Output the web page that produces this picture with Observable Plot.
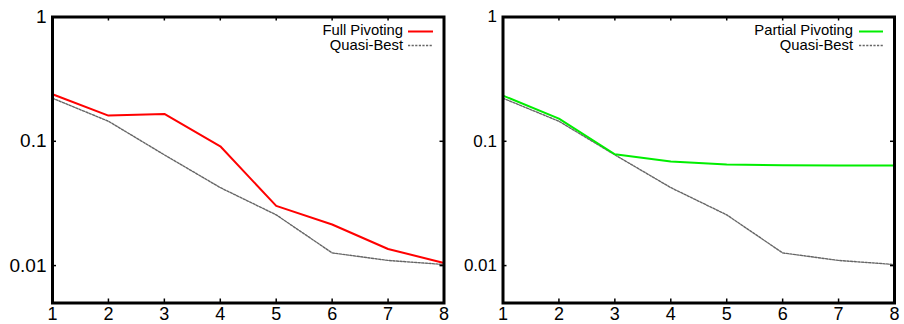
<!DOCTYPE html>
<html>
<head>
<meta charset="utf-8">
<script src="https://cdn.jsdelivr.net/npm/d3@7"></script>
<script src="https://cdn.jsdelivr.net/npm/@observablehq/plot@0.6"></script>
<style>
  html, body { margin: 0; padding: 0; background: #fff; }
  #wrap { display: flex; width: 904px; height: 324px; overflow: hidden; }
  #wrap svg { display: block; }
</style>
</head>
<body>
<div id="wrap"></div>
<script>
// ---- data ----
const steps = [1, 2, 3, 4, 5, 6, 7, 8];
const fullPivoting    = [0.239, 0.161, 0.166, 0.0912, 0.0302, 0.0214, 0.0136, 0.0105];
const partialPivoting = [0.233, 0.152, 0.0787, 0.0687, 0.065, 0.0642, 0.0638, 0.0638];
const quasiBest       = [0.222, 0.145, 0.0778, 0.0424, 0.0256, 0.01265, 0.011, 0.0102];
const yTicks = [1, 0.1, 0.01];
const yTickLabels = ["1", "0.1", "0.01"];
const xTicks = steps;
const panels = [
  { name: "Full Pivoting", values: fullPivoting, color: "#ff0000" },
  { name: "Partial Pivoting", values: partialPivoting, color: "#00ee00" }
];
const refName = "Quasi-Best";

const FONT = "'Liberation Sans', Arial, Helvetica, sans-serif";
const H = 324, MT = 16.5, MB = 21.5;
const GREY = "#666";

function panel(p, i) {
  const W = 452;
  const ML = i === 0 ? 52 : 50.5;
  const MR = i === 0 ? 8.5 : 10;
  const innerW = W - ML - MR, innerH = H - MT - MB;
  const main = steps.map((s, k) => ({ x: s, y: p.values[k] }));
  const ref = steps.map((s, k) => ({ x: s, y: quasiBest[k] }));
  const yFont = i === 0 ? 19 : 17;
  const chart = Plot.plot({
    width: W, height: H,
    marginLeft: ML, marginRight: MR, marginTop: MT, marginBottom: MB,
    style: { fontFamily: FONT, background: "#fff", color: "#000", overflow: "visible" },
    x: { domain: [1, 8] },
    y: { type: "log", domain: [0.005, 1] },
    marks: [
      Plot.line(ref, { x: "x", y: "y", stroke: GREY, strokeWidth: 1.4, strokeDasharray: "2.2,1.4" }),
      Plot.line(main, { x: "x", y: "y", stroke: p.color, strokeWidth: 2 }),
      Plot.tickX(xTicks, { x: d => d, insetTop: innerH - 4, stroke: "#000", strokeWidth: 1.5 }),
      Plot.tickX(xTicks, { x: d => d, insetBottom: innerH - 4, stroke: "#000", strokeWidth: 1.5 }),
      Plot.tickY(yTicks, { y: d => d, insetRight: innerW - 4, stroke: "#000", strokeWidth: 1.5 }),
      Plot.tickY(yTicks, { y: d => d, insetLeft: innerW - 4, stroke: "#000", strokeWidth: 1.5 }),
      Plot.axisX({ ticks: xTicks, tickSize: 0, tickPadding: 4, tickFormat: d => String(d), label: null, fontSize: 18 }),
      Plot.axisY({ ticks: yTicks, tickSize: 0, tickPadding: 6, tickFormat: d => yTickLabels[yTicks.indexOf(d)], label: null, fontSize: yFont }),
      Plot.frame({ stroke: "#000", strokeWidth: 3 })
    ]
  });
  // legend
  const svg = d3.select(chart);
  const tx = i === 0 ? 403 : 401;
  const lx1 = i === 0 ? 408 : 407, lx2 = i === 0 ? 433 : 431;
  const items = [
    { label: p.name, color: p.color, w: 2, dash: null, base: 35, ly: 31.5 },
    { label: refName, color: GREY, w: 1.4, dash: "2.2,1.4", base: 49.5, ly: 45.5 }
  ];
  const g = svg.append("g").attr("font-family", FONT).attr("font-size", 14.8);
  items.forEach(it => {
    g.append("text").attr("x", tx).attr("y", it.base).attr("text-anchor", "end").attr("fill", "#000").text(it.label);
    g.append("line").attr("x1", lx1).attr("x2", lx2).attr("y1", it.ly).attr("y2", it.ly)
      .attr("stroke", it.color).attr("stroke-width", it.w).attr("stroke-dasharray", it.dash);
  });
  return chart;
}

const wrap = document.getElementById("wrap");
panels.forEach((p, i) => wrap.appendChild(panel(p, i)));
</script>
</body>
</html>
